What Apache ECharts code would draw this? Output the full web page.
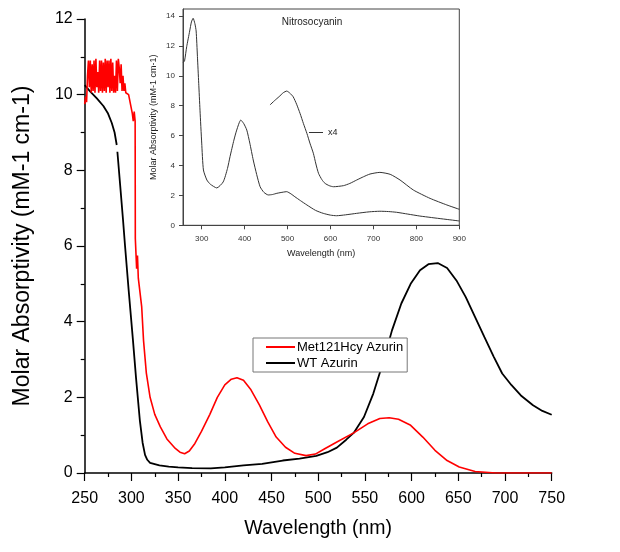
<!DOCTYPE html>
<html>
<head>
<meta charset="utf-8">
<script src="https://cdn.jsdelivr.net/npm/echarts@6/dist/echarts.min.js"></script>
<style>html,body{margin:0;padding:0;background:#fff}#c{width:620px;height:552px}</style>
</head>
<body>
<div id="c"></div>
<script>
// ---- Main chart data ----
const metWl  = [250,251,252,253,254,255,256,257,258,259,260,261,262,263,264,265,266,267,268,269,270,271,272,273,274,275,276,277,278,279,280,281,282,283,284,285,286,287,288,289,290,291,292,293,294,296,297,298.5,301,302,303,304,304.2,305.6,306.5,307.4,309,311,313,316,320,325,331,338,347,352,357,362,368,375,384,392,400,407,413,420,428,437,446,455,465,475,487,497,507,520,538,553,566,576,586,599,612,625,638,651,668,690,750];
const metAbs = [9.75,9.95,9.8,10.5,10.9,10.2,10.9,10.05,10.8,10.1,10.9,10.05,10.95,10.2,10.6,10.05,10.9,10.1,10.9,10.05,10.85,10.1,10.95,10.05,10.9,10.2,10.9,10.05,10.95,10.1,10.85,10.05,10.5,10.05,10.9,10.1,10.95,10.7,10.3,10.8,10.1,10.5,10.1,10.3,10.05,10.05,10.0,10.05,9.5,9.3,9.55,9.3,6.2,5.4,5.75,5.15,5.1,4.4,3.5,2.64,2.0,1.55,1.22,0.9,0.65,0.55,0.51,0.58,0.78,1.1,1.55,2.0,2.33,2.48,2.52,2.45,2.2,1.8,1.35,0.95,0.68,0.52,0.46,0.5,0.64,0.82,1.06,1.30,1.44,1.46,1.42,1.26,0.95,0.6,0.33,0.16,0.04,0.0,0.0];

const wtWl  = [250,252,256,263,270,275,279,282,284.3,284.6,285,288,291,293.2,297,301.7,305,309,312,314.6,317,320,330,340,350,365,385,400,420,440,462,480,498,510,520,530,538,549,559,569,579,589,599,609,618,628,638,648,658,668,678,688,697,707,717,730,740,750];
const wtAbs = [10.25,10.2,10.08,9.9,9.7,9.5,9.25,9.0,8.67,null,8.49,7.6,6.7,6.0,4.85,3.5,2.5,1.4,0.8,0.48,0.35,0.27,0.2,0.17,0.15,0.13,0.12,0.15,0.2,0.24,0.33,0.38,0.45,0.55,0.67,0.88,1.06,1.48,2.1,2.89,3.77,4.48,5.0,5.36,5.52,5.55,5.42,5.09,4.65,4.12,3.59,3.07,2.63,2.32,2.05,1.79,1.64,1.54];

// ---- Inset (Nitrosocyanin) data ----
const nitroWl  = [257,260,265,272,276,280,284,287,290,293,296,300,304,312,320,335,350,360,366,375,381.5,391,398,405,412,420,428,436,445,455,465,475,490,498,508,517,530,545,565,583,600,614,635,661,690,715,735,754,780,808,835,863,900];
const nitroAbs = [10.9,11.0,11.95,13.0,13.6,13.85,13.5,13.0,11.3,9.5,7.7,5.5,3.7,3.03,2.75,2.5,2.9,3.8,4.6,5.7,6.37,7.04,6.8,6.37,5.5,4.37,3.4,2.58,2.2,2.03,2.06,2.14,2.22,2.25,2.1,1.91,1.65,1.36,1.0,0.8,0.68,0.64,0.7,0.8,0.9,0.94,0.92,0.87,0.75,0.62,0.52,0.42,0.29];
const x4Wl  = [459,470,480,490,498,505,513,521,529,537,545,552,560,566,572,580,587,597,607,630,645,661,677,692,715,739,762,793,832,871,900];
const x4Abs = [8.05,8.35,8.6,8.87,8.98,8.85,8.6,8.1,7.49,6.8,6.15,5.5,4.82,4.1,3.48,3.05,2.81,2.65,2.58,2.65,2.8,3.03,3.25,3.43,3.54,3.41,3.03,2.36,1.8,1.36,1.07];

const mainXTicks = [250,300,350,400,450,500,550,600,650,700,750];
const insetXTicks = [300,400,500,600,700,800,900];
const insetYTicks = [0,2,4,6,8,10,12,14];

const pair = (xs, ys) => xs.map((x, i) => [x, ys[i] === null ? '-' : ys[i]]);
const FONT = 'Liberation Sans, Arial, Helvetica, sans-serif';

const chart = echarts.init(document.getElementById('c'), null, {renderer: 'canvas'});
chart.setOption({
  animation: false,
  backgroundColor: '#fff',
  textStyle: {fontFamily: FONT},
  title: {
    text: 'Nitrosocyanin', left: 307, top: 12, textAlign: 'center', z: 10,
    textStyle: {fontSize: 10, fontWeight: 'normal', color: '#222', fontFamily: FONT}
  },
  legend: [{
    data: ['Met121Hcy Azurin', 'WT Azurin'],
    orient: 'vertical', left: 253, top: 338, z: 10,
    icon: 'rect', itemWidth: 29, itemHeight: 2, itemGap: 0,
    padding: [1, 4, 1, 13],
    borderColor: '#777', borderWidth: 1, backgroundColor: '#fff',
    textStyle: {fontSize: 13, color: '#000', fontFamily: FONT, lineHeight: 16, padding: [0, 0, 0, -3]}
  }, {
    data: ['x4'],
    left: 309, top: 128, z: 10,
    icon: 'rect', itemWidth: 14, itemHeight: 1, padding: 0,
    textStyle: {fontSize: 9, color: '#222', fontFamily: FONT}
  }],
  grid: [
    {left: 84.7, right: 68.3, top: 19, bottom: 79, show: false},
    {left: 183, right: 160.7, top: 9, bottom: 326.7, show: true, backgroundColor: '#fff', borderColor: '#444', borderWidth: 1, z: 5}
  ],
  xAxis: [{
    type: 'value', gridIndex: 0, min: 250, max: 750, interval: 50,
    name: 'Wavelength (nm)', nameLocation: 'middle', nameGap: 46,
    nameTextStyle: {fontSize: 19.5, color: '#000', fontFamily: FONT},
    axisLine: {lineStyle: {color: '#000', width: 1.5}},
    axisTick: {inside: false, length: 8, lineStyle: {color: '#000', width: 1.2}},
    minorTick: {show: true, splitNumber: 2, length: 4, lineStyle: {color: '#000', width: 1.2}},
    axisLabel: {fontSize: 16, color: '#000', margin: 18, fontFamily: FONT, customValues: mainXTicks},
    splitLine: {show: false}
  }, {
    type: 'value', gridIndex: 1, min: 256.4, max: 900,
    name: 'Wavelength (nm)', nameLocation: 'middle', nameGap: 24,
    nameTextStyle: {fontSize: 9, color: '#222', fontFamily: FONT},
    axisLine: {lineStyle: {color: '#444', width: 1}},
    axisTick: {inside: false, length: 4, customValues: insetXTicks, lineStyle: {color: '#444'}},
    axisLabel: {fontSize: 8, color: '#333', margin: 9, fontFamily: FONT, customValues: insetXTicks},
    splitLine: {show: false}, z: 6
  }],
  yAxis: [{
    type: 'value', gridIndex: 0, min: 0, max: 12, interval: 2,
    name: 'Molar Absorptivity (mM-1 cm-1)', nameLocation: 'middle', nameGap: 51,
    nameTextStyle: {fontSize: 23, color: '#000', fontFamily: FONT},
    axisLine: {show: true, lineStyle: {color: '#000', width: 1.5}},
    axisTick: {show: true, inside: false, length: 8, lineStyle: {color: '#000', width: 1.2}},
    minorTick: {show: true, splitNumber: 2, length: 4, lineStyle: {color: '#000', width: 1.2}},
    axisLabel: {fontSize: 16, color: '#000', margin: 12, fontFamily: FONT},
    splitLine: {show: false}
  }, {
    type: 'value', gridIndex: 1, min: 0, max: 14.47,
    name: 'Molar Absorptivity (mM-1 cm-1)', nameLocation: 'middle', nameGap: 25,
    nameTextStyle: {fontSize: 9, color: '#222', fontFamily: FONT},
    axisLine: {show: true, lineStyle: {color: '#444', width: 1}},
    axisTick: {show: true, inside: false, length: 4, customValues: insetYTicks, lineStyle: {color: '#444'}},
    axisLabel: {fontSize: 8, color: '#333', margin: 8, fontFamily: FONT, customValues: insetYTicks},
    splitLine: {show: false}, z: 6
  }],
  series: [{
    name: 'Met121Hcy Azurin', type: 'line', xAxisIndex: 0, yAxisIndex: 0,
    data: pair(metWl, metAbs), showSymbol: false, symbol: 'none',
    lineStyle: {color: '#ff0000', width: 1.6}, itemStyle: {color: '#ff0000'}, z: 3
  }, {
    name: 'WT Azurin', type: 'line', xAxisIndex: 0, yAxisIndex: 0,
    data: pair(wtWl, wtAbs), showSymbol: false, symbol: 'none', connectNulls: false,
    lineStyle: {color: '#000', width: 1.8}, itemStyle: {color: '#000'}, z: 2
  }, {
    name: 'Nitrosocyanin', type: 'line', xAxisIndex: 1, yAxisIndex: 1,
    data: pair(nitroWl, nitroAbs), showSymbol: false, symbol: 'none', smooth: 0.2,
    lineStyle: {color: '#333', width: 1}, z: 7
  }, {
    name: 'x4', type: 'line', xAxisIndex: 1, yAxisIndex: 1,
    data: pair(x4Wl, x4Abs), showSymbol: false, symbol: 'none', smooth: 0.2,
    lineStyle: {color: '#333', width: 1}, itemStyle: {color: '#333'}, z: 7
  }]
});
</script>
</body>
</html>
